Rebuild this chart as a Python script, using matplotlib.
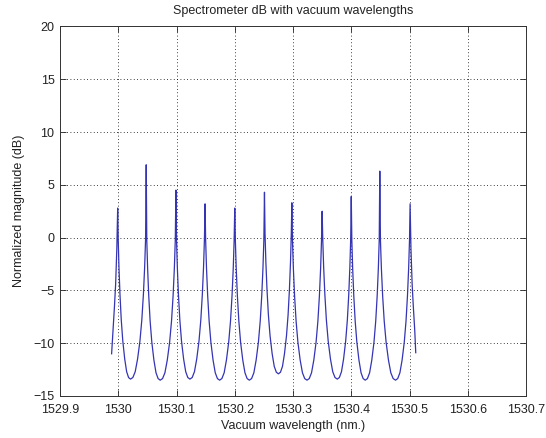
import matplotlib
matplotlib.use("Agg")
import matplotlib.pyplot as plt
import numpy as np

# ---- data ----
peak_wl = [1529.999, 1530.048, 1530.099, 1530.149, 1530.200, 1530.251,
           1530.298, 1530.350, 1530.400, 1530.449, 1530.501]
peak_db = [2.8, 6.9, 4.5, 3.2, 2.8, 4.3, 3.3, 2.5, 3.9, 6.3, 3.2]

trough_wl = [1530.021, 1530.072, 1530.123, 1530.174, 1530.225,
             1530.275, 1530.324, 1530.376, 1530.424, 1530.476]
trough_db = [-13.4, -13.5, -13.4, -13.5, -13.5, -12.9, -13.5, -13.4, -13.5, -13.5]

# shape of a flank read from one lobe: fraction of trough->peak distance, dB above trough
flank_frac = [0.15, 0.3, 0.45, 0.6, 0.72, 0.82, 0.9, 0.96]
flank_rise = [0.15, 0.7, 1.9, 3.6, 5.6, 8.0, 10.6, 13.3]

lead_wl = [1529.9886, 1529.991, 1529.9935, 1529.9955, 1529.9975]
lead_db = [-11.0, -8.8, -6.5, -4.4, -1.1]
trail_wl = [1530.5025, 1530.5045, 1530.5065, 1530.509, 1530.5107]
trail_db = [-1.1, -4.4, -6.5, -8.8, -10.9]

x_ticks = [1529.9, 1530.0, 1530.1, 1530.2, 1530.3, 1530.4, 1530.5, 1530.6, 1530.7]
x_tick_labels = ["1529.9", "1530", "1530.1", "1530.2", "1530.3", "1530.4",
                 "1530.5", "1530.6", "1530.7"]
y_ticks = [-15, -10, -5, 0, 5, 10, 15, 20]

# ---- assemble the trace ----
wl = list(lead_wl)
db = list(lead_db)
for i in range(len(trough_wl)):
    wl.append(peak_wl[i]); db.append(peak_db[i])
    tw, tv = trough_wl[i], trough_db[i]
    pl, pr = peak_wl[i], peak_wl[i + 1]
    for f, r in reversed(list(zip(flank_frac, flank_rise))):
        wl.append(tw - f * (tw - pl)); db.append(tv + r)
    wl.append(tw); db.append(tv)
    for f, r in zip(flank_frac, flank_rise):
        wl.append(tw + f * (pr - tw)); db.append(tv + r)
wl.append(peak_wl[-1]); db.append(peak_db[-1])
wl += trail_wl
db += trail_db

plt.rcParams['font.family'] = ['Liberation Sans', 'DejaVu Sans']
fig = plt.figure(figsize=(5.46, 4.38), dpi=100, facecolor='white')
ax = fig.add_axes([0.1099, 0.0959, 0.8535, 0.8436])

ax.plot(wl, db, color='#3434b4', linewidth=0.9)

ax.set_xlim(1529.9, 1530.7)
ax.set_ylim(-15, 20)
ax.set_xticks(x_ticks)
ax.set_xticklabels(x_tick_labels)
ax.set_yticks(y_ticks)
ax.grid(True, color='black', linestyle=(0, (1, 3)), linewidth=0.6)
ax.tick_params(direction='in', length=4, width=0.6, top=True, right=True,
               labelsize=9, colors='#222222')
ax.tick_params(axis='x', pad=6)
ax.tick_params(axis='y', pad=4)
for s in ax.spines.values():
    s.set_linewidth(0.7)
    s.set_color('#333333')

ax.set_title("Spectrometer dB with vacuum wavelengths", fontsize=9, color='#222222', pad=9)
ax.set_xlabel("Vacuum wavelength (nm.)", fontsize=9, color='#222222', labelpad=3)
ax.set_ylabel("Normalized magnitude (dB)", fontsize=9, color='#222222', labelpad=6)

fig.savefig("out.png", dpi=100, facecolor='white')
